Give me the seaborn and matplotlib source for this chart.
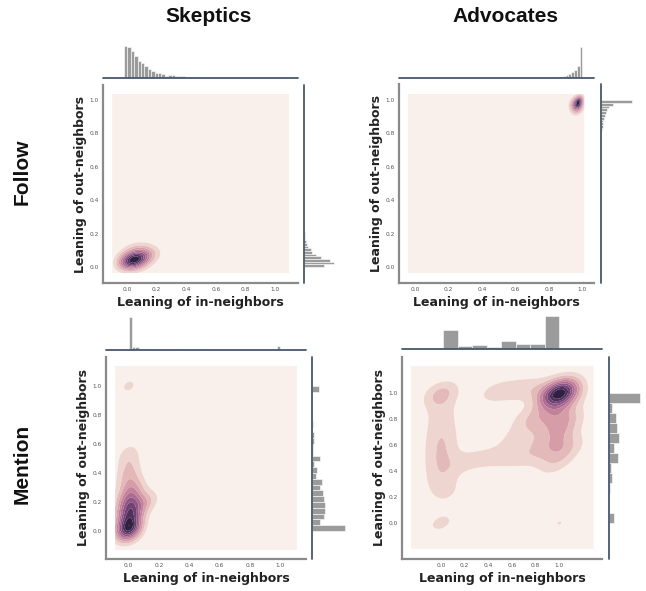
import numpy as np
import matplotlib
matplotlib.use("Agg")
import matplotlib.pyplot as plt
import seaborn as sns
from seaborn._statistics import KDE

sns.set_style("white")
plt.rcParams['font.family'] = ['DejaVu Sans']

# ---------------- data ----------------
col_titles = ["Skeptics", "Advocates"]
row_titles = ["Follow", "Mention"]
x_label = "Leaning of in-neighbors"
y_label = "Leaning of out-neighbors"
tick_values = [0.0, 0.2, 0.4, 0.6, 0.8, 1.0]

# Follow / Skeptics : weighted anchor points of the joint distribution
fs_x = [0.03, 0.06, 0.10, 0.15, 0.00, 0.07, 0.12, 0.03, 0.09, 0.18]
fs_y = [0.035, 0.05, 0.07, 0.09, 0.06, 0.01, 0.03, 0.11, 0.12, 0.06]
fs_w = [10, 5, 3, 1.5, 2, 2, 1.2, 1.4, 0.9, 0.9]
fs_hist_x = [31.7, 30.7, 27.3, 21.7, 17.3, 15, 12.3, 9.3, 7.3, 5, 5, 4, 2.3, 3,
             2.7, 1.7, 2, 1.7, 1.3, 1, 1, 0.7, 0.5, 0.3]
fs_hist_y = [20, 30, 26, 16.7, 11.7, 8.3, 6.7, 4, 3.3, 2.3, 1, 0.7, 0.5, 0.4, 0.3, 0.2]

# Follow / Advocates
fa_x = [0.98, 0.96, 0.975, 0.95, 0.94, 0.965, 0.99, 0.94]
fa_y = [0.99, 0.985, 0.96, 0.95, 0.97, 0.93, 0.95, 0.99]
fa_w = [8, 2, 2, 1.5, 1, 1, 1.2, 0.8]
fa_hist_x = [0.7, 1.3, 2, 3.3, 4.3, 6, 8.3, 11.7, 30.7]
fa_hist_y = [1, 1.5, 2, 2, 3, 4, 5, 6, 8, 12, 31]

# Mention / Skeptics
ms_x = [0.0, 0.0, 0.0, 0.0, 0.0, 0.0, 0.01, 0.0, 0.0, 0.0, 0.0, 0.06, 0.10, 0.14,
        0.05, 0.0, 0.98, 0.98, 0.98, 0.98, 0.34, 0.51]
ms_y = [0.0, 0.03, 0.07, 0.12, 0.17, 0.22, 0.28, 0.35, 0.42, 0.50, 0.56, 0.15, 0.20,
        0.22, 0.30, 1.0, 0.15, 0.35, 0.55, 0.75, 0.2, 0.3]
ms_w = [8, 4, 4, 4, 4, 3.5, 2.5, 2.2, 2.0, 1.6, 1.0, 1.8, 1.6, 1.1,
        1.0, 1.75, 0.7, 0.7, 0.7, 0.7, 0.4, 0.6]
ms_hist_x = [33, 2.7, 2.7, 1.5, 1.2, 0.5, 0.7, 0.3, 0, 0, 0, 0, 0, 0, 0, 0.7, 0, 0, 0,
             0, 0, 0, 1.3, 0, 0, 0, 0, 0, 0, 0, 0, 0, 0, 0, 0, 0, 0, 0, 0, 0, 0, 0, 0,
             0, 3.7]
ms_hist_y = [33, 8.3, 11.7, 13.3, 13, 12, 10.7, 8, 9.7, 3.7, 4.7, 2, 7.7, 1.3, 1, 1.5,
             2, 0, 0.5, 0, 0, 0, 0, 0, 6.7]

# Mention / Advocates
ma_x = [1.0, 0.98, 0.9, 1.1, 1.05,                           # main peak
        1.0, 1.0, 1.0, 1.0, 0.88, 1.12, 0.88, 1.12, 0.92,    # right column
        0.0, 0.0, 0.0, 0.0, 0.0, 0.0, 0.0, 0.0, 0.05,        # left column
        0.2, 0.35, 0.5, 0.65, 0.8,                           # lower band
        0.6, 0.75, 0.7, 0.8,                                 # right of notch
        0.42, 0.55, 0.68, 0.8,                               # upper bridge
        0.0, 1.0]                                            # isolated spots
ma_y = [1.0, 0.9, 0.95, 0.95, 1.08,
        0.5, 0.6, 0.72, 0.82, 0.6, 0.6, 0.8, 0.8, 0.42,
        0.3, 0.4, 0.5, 0.6, 0.7, 0.8, 0.9, 1.0, 0.22,
        0.47, 0.5, 0.5, 0.5, 0.52,
        0.65, 0.65, 0.8, 0.8,
        1.0, 1.02, 1.03, 1.04,
        0.0, 0.0]
ma_w = [25, 3, 2, 2, 2,
        3.5, 4.5, 6, 4.5, 2, 2, 2, 2, 2,
        2.8, 3.3, 3.8, 3.8, 3.3, 2.8, 2.5, 6.3, 2.5,
        2.5, 2.5, 2.5, 2.5, 2.5,
        2.5, 2.5, 2.5, 2.5,
        2.7, 2.5, 2.5, 2.5,
        3.6, 3.0]
ma_hist_x = [19, 3.3, 4, 2, 8, 5, 5, 33]
ma_hist_y = [4.7, 0, 0, 1.3, 3.3, 1.7, 9, 5.3, 9.7, 8, 6.7, 3.3, 31]

panels = [
    dict(x=fs_x, y=fs_y, w=fs_w, hx=fs_hist_x, hy=fs_hist_y,
         xb=(-0.02, 0.532), yb=(0.0, 0.256), bw=1.25,
         clip=((-0.10, 1.095), (-0.036, 1.036)),
         xlim=(-0.162, 1.155), ylim=(-0.096, 1.09),
         box=(103, 85, 298, 283), top_base=78, right_left=304),
    dict(x=fa_x, y=fa_y, w=fa_w, hx=fa_hist_x, hy=fa_hist_y,
         xb=(0.85, 1.0), yb=(0.8167, 1.0), bw=1.1,
         clip=((-0.042, 1.012), (-0.036, 1.036)),
         xlim=(-0.096, 1.07), ylim=(-0.096, 1.096),
         box=(399, 84, 594, 283), top_base=78, right_left=601),
    dict(x=ms_x, y=ms_y, w=ms_w, hx=ms_hist_x, hy=ms_hist_y,
         xb=(0.0, 1.0), yb=(0.0, 1.0), bw=0.24,
         clip=((-0.09, 1.11), (-0.131, 1.138)),
         xlim=(-0.15, 1.17), ylim=(-0.193, 1.2),
         box=(106, 357, 306, 559), top_base=350, right_left=312),
    dict(x=ma_x, y=ma_y, w=ma_w, hx=ma_hist_x, hy=ma_hist_y,
         xb=(0.02, 1.0), yb=(0.0, 1.0), bw=0.25,
         clip=((-0.254, 1.288), (-0.2, 1.208)),
         xlim=(-0.33, 1.36), ylim=(-0.277, 1.277),
         box=(402, 357, 602, 559), top_base=349, right_left=609),
]

W, H = 646, 591
fig = plt.figure(figsize=(W / 100, H / 100), dpi=100)
cmap = sns.cubehelix_palette(light=0.99, dark=0.12, as_cmap=True)
N_LEVELS = 10
GRIDSIZE = 300
CUT = 100
hist_color = "#9b9b9b"
marg_spine = "#46586a"


def rect(l, t, r, b):
    return [l / W, 1 - b / H, (r - l) / W, (b - t) / H]


def linear_props(x, y, w, bw, clip, n):
    # iso-proportion values that correspond to evenly spaced density levels
    kde = KDE(bw_method=bw, clip=clip, gridsize=GRIDSIZE, cut=CUT)
    dens, _ = kde(np.asarray(x, float), np.asarray(y, float),
                  weights=np.asarray(w, float))
    vals = np.ravel(dens)
    total = vals.sum()
    props = [1 - vals[vals >= t].sum() / total for t in np.linspace(0, vals.max(), n + 1)]
    props = np.clip(np.array(props), 0, 1)
    props[0] = 0.0
    return [float(v) for v in props]


for p in panels:
    l, t, r, b = p["box"]
    ax = fig.add_axes(rect(l, t, r, b))
    levels = linear_props(p["x"], p["y"], p["w"], p["bw"], p["clip"], N_LEVELS)
    sns.kdeplot(x=p["x"], y=p["y"], weights=p["w"], fill=True, levels=levels,
                bw_method=p["bw"], clip=p["clip"], gridsize=GRIDSIZE, cut=CUT,
                cmap=cmap, ax=ax, antialiased=True)
    ax.set_xlim(p["xlim"])
    ax.set_ylim(p["ylim"])
    ax.set_xticks(tick_values)
    ax.set_yticks(tick_values)
    ax.set_xticklabels([f"{v:.1f}" for v in tick_values])
    ax.set_yticklabels([f"{v:.1f}" for v in tick_values])
    ax.tick_params(length=0, labelsize=4.2, labelcolor="#555555", pad=3)
    ax.set_xlabel(x_label, fontsize=9, fontweight="bold", color="#222222", labelpad=3)
    ax.set_ylabel(y_label, fontsize=9, fontweight="bold", color="#222222", labelpad=1.5)
    for s in ["top", "right"]:
        ax.spines[s].set_visible(False)
    for s in ["left", "bottom"]:
        ax.spines[s].set_color("#8a8a8a")
        ax.spines[s].set_linewidth(1.6)

    # top marginal
    axt = fig.add_axes(rect(l, p["top_base"] - 40, r, p["top_base"]))
    xe = np.linspace(p["xb"][0], p["xb"][1], len(p["hx"]) + 1)
    xc = (xe[:-1] + xe[1:]) / 2
    sns.histplot(x=list(xc), weights=p["hx"], bins=[float(v) for v in xe], ax=axt,
                 color=hist_color, alpha=1, edgecolor="white", linewidth=0.4)
    axt.set_xlim(p["xlim"])
    axt.set_ylim(0, 40)
    axt.set_axis_off()
    axt.axhline(0, color=marg_spine, lw=1.3, clip_on=False)

    # right marginal
    axr = fig.add_axes(rect(p["right_left"], t, p["right_left"] + 40, b))
    ye = np.linspace(p["yb"][0], p["yb"][1], len(p["hy"]) + 1)
    yc = (ye[:-1] + ye[1:]) / 2
    sns.histplot(y=list(yc), weights=p["hy"], bins=[float(v) for v in ye], ax=axr,
                 color=hist_color, alpha=1, edgecolor="white", linewidth=0.4)
    axr.set_ylim(p["ylim"])
    axr.set_xlim(0, 40)
    axr.set_axis_off()
    axr.axvline(0, color=marg_spine, lw=1.3, clip_on=False)

title_kw = dict(fontsize=15, fontweight="bold", family=["Liberation Sans", "DejaVu Sans"],
                ha="center", va="center", color="#111111")
fig.text(209 / W, 1 - 17 / H, col_titles[0], **title_kw)
fig.text(505 / W, 1 - 17 / H, col_titles[1], **title_kw)
fig.text(22 / W, 1 - 172 / H, row_titles[0], rotation=90, **title_kw)
fig.text(22 / W, 1 - 464 / H, row_titles[1], rotation=90, **title_kw)

fig.savefig("out.png", dpi=100)
